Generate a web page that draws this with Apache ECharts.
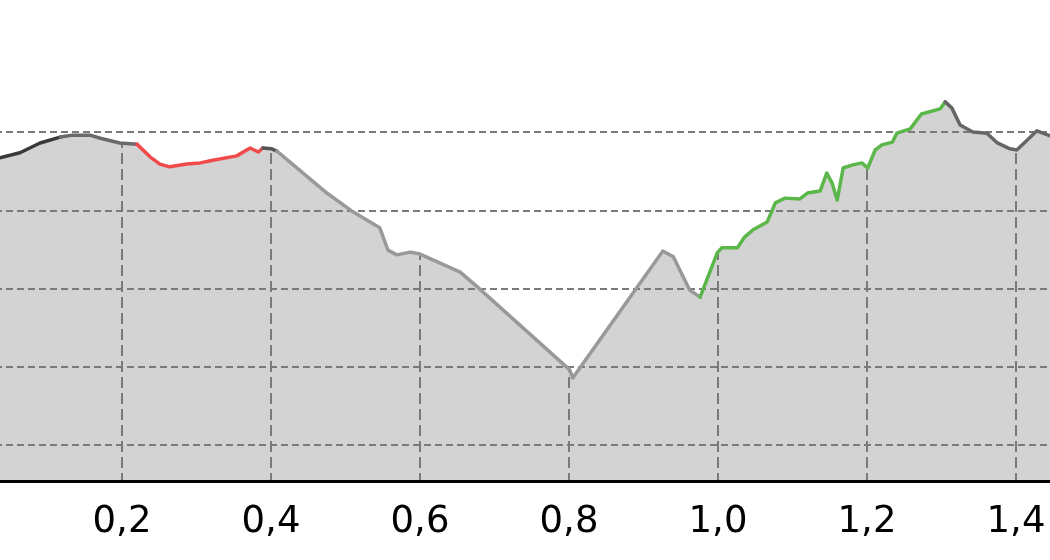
<!DOCTYPE html>
<html>
<head>
<meta charset="utf-8">
<script src="https://cdn.jsdelivr.net/npm/echarts@6/dist/echarts.min.js"></script>
<style>html,body{margin:0;padding:0;background:#fff}#c{width:1050px;height:560px}</style>
</head>
<body>
<div id="c"></div>
<script>
// distance (km) along the track
const distance = [
  0.000, 0.036, 0.063, 0.090, 0.117, 0.134, 0.157, 0.171, 0.197, 0.220,
  0.238, 0.251, 0.264, 0.287, 0.305, 0.322, 0.354, 0.372, 0.383, 0.389,
  0.401, 0.408, 0.475, 0.510, 0.546, 0.557, 0.569, 0.587, 0.600, 0.654,
  0.677, 0.801, 0.805, 0.926, 0.940, 0.962, 0.976, 0.999, 1.005, 1.026,
  1.036, 1.047, 1.066, 1.077, 1.090, 1.110, 1.120, 1.137, 1.146, 1.153,
  1.160, 1.168, 1.181, 1.193, 1.201, 1.211, 1.220, 1.234, 1.240, 1.258,
  1.273, 1.298, 1.305, 1.314, 1.325, 1.342, 1.361, 1.375, 1.392, 1.401,
  1.412, 1.428, 1.446, 1.460
];
// elevation (m)
const elevation = [
  171.6, 173.4, 174.7, 177.2, 178.7, 179.2, 179.2, 178.4, 177.2, 176.9,
  173.6, 171.8, 171.1, 171.8, 172.1, 172.8, 173.9, 175.9, 174.9, 175.9,
  175.7, 175.1, 164.4, 159.6, 155.5, 149.8, 148.6, 149.3, 148.8, 144.2,
  140.4, 119.2, 117.1, 149.6, 148.1, 139.6, 137.8, 149.1, 150.4, 150.4,
  153.2, 155.0, 157.0, 161.9, 163.1, 162.9, 164.4, 164.9, 169.5, 167.0,
  162.6, 170.8, 171.6, 172.1, 170.8, 175.4, 176.7, 177.4, 179.7, 180.8,
  184.6, 185.9, 187.7, 186.1, 181.8, 180.0, 179.7, 177.2, 175.7, 175.4,
  177.4, 180.3, 179.0, 178.5
];
// track segments: [first index, last index]
const segmentRanges = [[0, 4], [4, 9], [9, 19], [19, 21], [21, 36], [36, 62], [62, 73]];
const segmentColors = ['#3a3a3a', '#6a6a6a', '#f04a4a', '#555555', '#999999', '#5cb74a', '#666666'];
// x tick values
const xTicks = [0, 0.2, 0.4, 0.6, 0.8, 1.0, 1.2, 1.4, 1.6];

const points = distance.map((d, i) => [d, elevation[i]]);

const lineSeries = segmentRanges.map((r, k) => ({
  type: 'line',
  data: points.slice(r[0], r[1] + 1),
  showSymbol: false,
  symbol: 'none',
  silent: true,
  z: 6,
  lineStyle: { color: segmentColors[k], width: 3.5, join: 'round', cap: 'round' }
}));

const chart = echarts.init(document.getElementById('c'), null, { renderer: 'canvas' });
chart.setOption({
  animation: false,
  backgroundColor: '#ffffff',
  grid: { left: -27, top: 73, width: 1192, height: 408, outerBoundsMode: 'none', containLabel: false },
  xAxis: {
    type: 'value',
    min: xTicks[0],
    max: xTicks[xTicks.length - 1],
    interval: 0.2,
    z: 2,
    axisLine: { show: true, onZero: false, lineStyle: { color: '#000', width: 3 } },
    axisTick: { show: false },
    axisLabel: {
      color: '#000',
      fontSize: 37,
      fontFamily: '"DejaVu Sans", sans-serif',
      margin: 23,
      showMinLabel: false,
      showMaxLabel: false,
      formatter: v => v.toFixed(1).replace('.', ',')
    },
    splitLine: { show: true, lineStyle: { color: '#7a7a7a', width: 2, type: [11, 5] } }
  },
  yAxis: {
    type: 'value',
    min: 90.8,
    max: 195.08,
    z: 4,
    axisLine: { show: false },
    axisTick: { show: false },
    axisLabel: { show: false },
    splitLine: { show: true, showMinLine: false, showMaxLine: false, lineStyle: { color: '#7a7a7a', width: 2, type: [7, 4] } }
  },
  series: [
    {
      type: 'line',
      data: points,
      showSymbol: false,
      symbol: 'none',
      silent: true,
      z: 1,
      lineStyle: { width: 0, opacity: 0 },
      areaStyle: { color: '#d3d3d3', opacity: 1, origin: 'start' }
    },
    {
      type: 'line',
      data: points,
      showSymbol: false,
      symbol: 'none',
      silent: true,
      z: 3,
      lineStyle: { width: 0, opacity: 0 },
      areaStyle: { color: '#ffffff', opacity: 1, origin: 'end' }
    }
  ].concat(lineSeries)
});
</script>
</body>
</html>
